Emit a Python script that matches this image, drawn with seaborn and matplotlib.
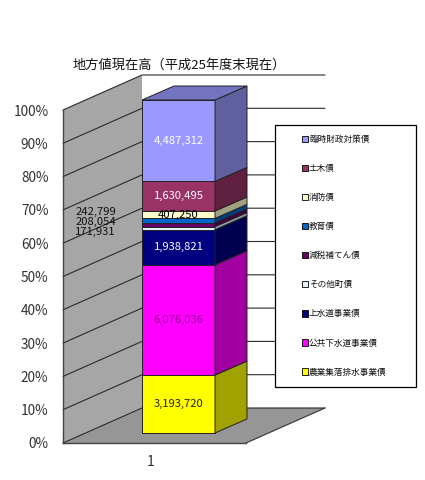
import numpy as np
import matplotlib
matplotlib.use('Agg')
import matplotlib.pyplot as plt
from matplotlib.colors import to_rgb
from matplotlib.patches import Patch, Polygon, Rectangle
import seaborn as sns

# Values
categories = ['1']
series = ['農業集落排水事業債', '公共下水道事業債', '上水道事業債', 'その他町債', '減税補てん債',
          '教育債', '消防債', '土木債', '臨時財政対策債']
values = [3193720, 6076036, 1938821, 171931, 208054, 242799, 407250, 1630495, 4487312]
value_labels = ['3,193,720', '6,076,036', '1,938,821', '171,931', '208,054', '242,799',
                '407,250', '1,630,495', '4,487,312']
colors = ['#FFFF00', '#FF00FF', '#000080', '#E4F4FF', '#660066', '#0066CC', '#FFFFCC', '#993366', '#9999FF']
label_colors = ['#222200', '#990099', 'white', 'black', 'black', 'black', 'black', 'white', 'white']
y_ticks = [0, 10, 20, 30, 40, 50, 60, 70, 80, 90, 100]
title = '地方値現在高（平成25年度末現在）'

W, H = 425, 480
sns.set_theme(style='white')
plt.rcParams['font.family'] = ['Noto Sans CJK JP', 'DejaVu Sans']
fig = plt.figure(figsize=(W / 100, H / 100), dpi=100)


def px_axes(left, right, top, bottom):
    return fig.add_axes([left / W, 1 - bottom / H, (right - left) / W, (bottom - top) / H])


# Front plane of the 3D box, holds the real axis ticks
ax = px_axes(63, 246, 110, 443)
ax.set_xlim(0, 1)
ax.set_ylim(0, 100)
ax.patch.set_alpha(0)
depth_x = 79 / 183
depth_y = 35 / 3.33

ax.add_patch(Polygon([(0, 0), (0, 100), (depth_x, 100 + depth_y), (depth_x, depth_y)],
                     fc='#A6A6A6', ec='none', clip_on=False, zorder=1))
ax.add_patch(Polygon([(0, 0), (1, 0), (1 + depth_x, depth_y), (depth_x, depth_y)],
                     fc='#969696', ec='none', clip_on=False, zorder=1))
for t in y_ticks:
    ax.plot([0, depth_x, 1 + depth_x], [t, t + depth_y, t + depth_y], color='#2A2A2A', lw=0.8,
            clip_on=False, zorder=2)
ax.plot([1, 1 + depth_x], [0, depth_y], color='#333333', lw=0.8, clip_on=False, zorder=2)

ax.set_yticks(y_ticks, [f'{t}%' for t in y_ticks])
ax.set_xticks([0.48], categories)
ax.set_xticks([0, 1], minor=True)
ax.tick_params(axis='y', direction='in', length=4, width=0.8, labelsize=9.8, pad=10.5, colors='#333333', left=True)
ax.tick_params(axis='x', which='major', length=0, labelsize=10, pad=9, colors='#333333')
ax.tick_params(axis='x', which='minor', direction='in', length=4, width=0.8, color='#333333', bottom=True)
sns.despine(ax=ax)
for side in ['left', 'bottom']:
    ax.spines[side].set_color('#444444')
    ax.spines[side].set_linewidth(1.0)

# Bars live on a full figure axes, 0-100% spans y 433..100 px
ax_bar = fig.add_axes([0, 0, 1, 1])
shares = np.array(values) / sum(values) * 100
bottoms = np.concatenate([[0], np.cumsum(shares)[:-1]])
for share, base, color in zip(shares, bottoms, colors):
    sns.barplot(x=categories, y=[share], bottom=base, color=color, saturation=1, width=0.8,
                edgecolor='#222222', linewidth=0.7, ax=ax_bar, zorder=3)

px_x = 73 / 0.8
px_y = 3.33
ax_bar.set_xlim(-178.5 / px_x, (W - 178.5) / px_x)
ax_bar.set_ylim(-47 / px_y, (H - 47) / px_y)
ax_bar.axis('off')

bar_dx = 32 / px_x
bar_dy = 14 / px_y
for share, base, color in zip(shares, bottoms, colors):
    side = np.array(to_rgb(color)) * 0.63
    ax_bar.add_patch(Polygon([(0.4, base), (0.4, base + share), (0.4 + bar_dx, base + share + bar_dy),
                              (0.4 + bar_dx, base + bar_dy)], fc=side, ec='#222222', lw=0.7, zorder=3))
top = np.array(to_rgb(colors[-1])) * 0.75
ax_bar.add_patch(Polygon([(-0.4, 100), (0.4, 100), (0.4 + bar_dx, 100 + bar_dy), (-0.4 + bar_dx, 100 + bar_dy)],
                         fc=top, ec='#222222', lw=0.7, zorder=3))

# Data labels, the three thin segments are moved out onto the wall
outside = {3: 60.4, 4: 63.4, 5: 66.4}
for i, (share, base, text, lc) in enumerate(zip(shares, bottoms, value_labels, label_colors)):
    if i in outside:
        ax_bar.text(-0.91, outside[i], text, ha='center', va='center', fontsize=8.1, color='#111111', zorder=4)
    else:
        ax_bar.text(0.0, base + share / 2, text, ha='center', va='center', fontsize=8.1, color=lc, zorder=4)

# Legend box
ax_bar.add_patch(Rectangle((275 / W, 1 - 387 / H), 141 / W, 262 / H, transform=fig.transFigure,
                           fc='white', ec='black', lw=0.9, clip_on=False, zorder=5))
handles = [Patch(fc=c, ec='black', lw=0.6, label=s) for c, s in zip(colors, series)][::-1]
leg = ax_bar.legend(handles=handles, loc='upper left', bbox_to_anchor=(302 / W, 1 - 135 / H),
                    bbox_transform=fig.transFigure, frameon=False, fontsize=6.2, handlelength=0.75,
                    handleheight=0.75, handletextpad=0.05, labelspacing=2.33, borderpad=0, borderaxespad=0)
leg.set_zorder(6)
for t in leg.get_texts():
    t.set_color('#111111')

fig.text(73 / W, 1 - 65.5 / H, title, ha='left', va='center', fontsize=9.5, color='#111111')

fig.savefig('out.png', dpi=100)
